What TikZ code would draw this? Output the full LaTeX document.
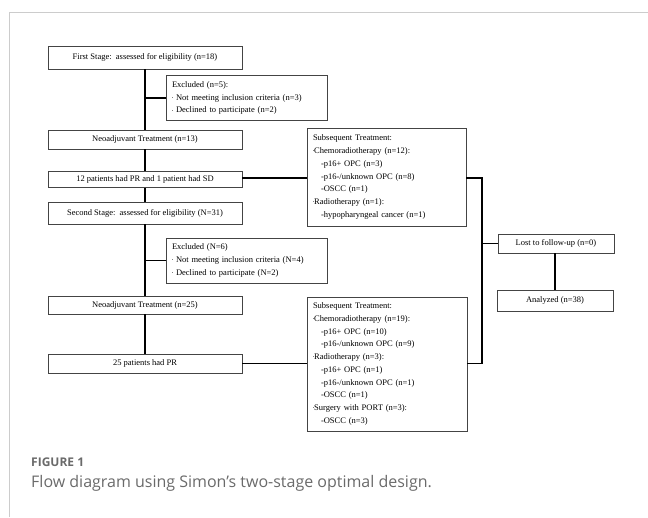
\documentclass[tikz,border=0pt]{standalone}
\usepackage{fontspec}
\setmainfont{Liberation Serif}
\newfontfamily\capfont{Open Sans}
\usepackage{tikz}
\usetikzlibrary{positioning, calc}
\definecolor{framegray}{HTML}{CCCCCC}
\definecolor{boxgray}{HTML}{444444}
\definecolor{capgray}{HTML}{6A6A6A}
\newcommand{\bul}{{\color{gray}\rule[2.9pt]{1.2pt}{0.3pt}}}
\tikzset{
	flowbox/.style={
			draw=boxgray,
			line width=0.8pt,
			fill=white,
			inner sep=0pt,
			font=\fontsize{8.5}{12.7}\selectfont
		},
	listbox/.style={
			flowbox,
			align=left,
			inner xsep=6pt,
			inner ysep=6pt
		},
	link/.style={
			line width=1.5pt,
			black
		}
}

\begin{document}
\begin{tikzpicture}[x=1pt, y=-1pt]
\useasboundingbox (0,0) rectangle (648,517);
\draw[framegray, line width=0.9pt] (9,517) -- (9,12) -- (648,12);

% left column
\node[flowbox, minimum width=194pt, minimum height=23pt] (first) at (145,57.5)
  {First Stage:\ \ assessed for eligibility (n=18)};
\node[listbox, minimum width=161pt, text width=149pt, minimum height=44pt] (excl1) at (246.5,98)
  {Excluded (n=5):\\ \bul\ Not meeting inclusion criteria (n=3)\\ \bul\ Declined to participate (n=2)};
\node[flowbox, minimum width=194pt, minimum height=19pt] (neo1) at (145,139.5)
  {Neoadjuvant Treatment (n=13)};
\node[flowbox, minimum width=194pt, minimum height=16pt] (pr1) at (145,179.5)
  {12 patients had PR and 1 patient had SD};
\node[flowbox, minimum width=194pt, minimum height=22pt] (second) at (145,213)
  {Second Stage:\ \ assessed for eligibility (N=31)};
\node[listbox, minimum width=161pt, text width=149pt, minimum height=45pt] (excl2) at (246.5,260.5)
  {Excluded (N=6)\\ \bul\ Not meeting inclusion criteria (N=4)\\ \bul\ Declined to participate (N=2)};
\node[flowbox, minimum width=194pt, minimum height=18pt] (neo2) at (145,305)
  {Neoadjuvant Treatment (n=25)};
\node[flowbox, minimum width=194pt, minimum height=19pt] (pr2) at (145,363.5)
  {25 patients had PR};

% treatment boxes
\node[listbox, text width=147pt, minimum height=98pt] (sub1) at (386.5,177)
  {Subsequent Treatment:\\ \bul Chemoradiotherapy (n=12):\\
   \hspace*{8pt}-p16+ OPC (n=3)\\ \hspace*{8pt}-p16-/unknown OPC (n=8)\\
   \hspace*{8pt}-OSCC (n=1)\\ \bul Radiotherapy (n=1):\\
   \hspace*{8pt}-hypopharyngeal cancer (n=1)};
\node[listbox, text width=148pt, minimum height=134pt] (sub2) at (387,364)
  {Subsequent Treatment:\\ \bul Chemoradiotherapy (n=19):\\
   \hspace*{8pt}-p16+ OPC (n=10)\\ \hspace*{8pt}-p16-/unknown OPC (n=9)\\
   \bul Radiotherapy (n=3):\\ \hspace*{8pt}-p16+ OPC (n=1)\\
   \hspace*{8pt}-p16-/unknown OPC (n=1)\\ \hspace*{8pt}-OSCC (n=1)\\
   \bul Surgery with PORT (n=3):\\ \hspace*{8pt}-OSCC (n=3)};

% right column
\node[flowbox, minimum width=116pt, minimum height=19pt] (lost) at (556,243.5)
  {Lost to follow-up (n=0)};
\node[flowbox, minimum width=116pt, minimum height=21pt] (anal) at (555,300.5)
  {Analyzed (n=38)};

\coordinate (jtop) at (482,178);
\coordinate (jbot) at (482,363.5);

\draw[link] (first) -- (neo1);
\draw[link] (neo1) -- (pr1);
\draw[link] (pr1) -- (second);
\draw[link] (second) -- (neo2);
\draw[link] (neo2) -- (pr2);
\draw[link] (first.south |- excl1.west) -- (excl1.west);
\draw[link] (second.south |- excl2.west) -- (excl2.west);

\draw[link] (pr1.east |- jtop) -- (sub1.west |- jtop);
\draw[link] (pr2.east) -- (sub2.west |- pr2.east);
\draw[link] (sub1.east |- jtop) -- (jtop) -- (jbot) -- (sub2.east |- jbot);
\draw[link] (jtop |- lost.west) -- (lost.west);
\draw[link] (lost.south -| anal.north) -- (anal.north);

% caption
\node[anchor=west, font=\capfont\bfseries\fontsize{12}{14}\selectfont, text=capgray, inner sep=0pt] (fig) at (31,462)
  {FIGURE 1};
\node[anchor=west, font=\capfont\fontsize{16}{18}\selectfont, text=capgray, inner sep=0pt] (cap) at (31,483.5)
  {Flow diagram using Simon’s two-stage optimal design.};
\end{tikzpicture}
\end{document}
